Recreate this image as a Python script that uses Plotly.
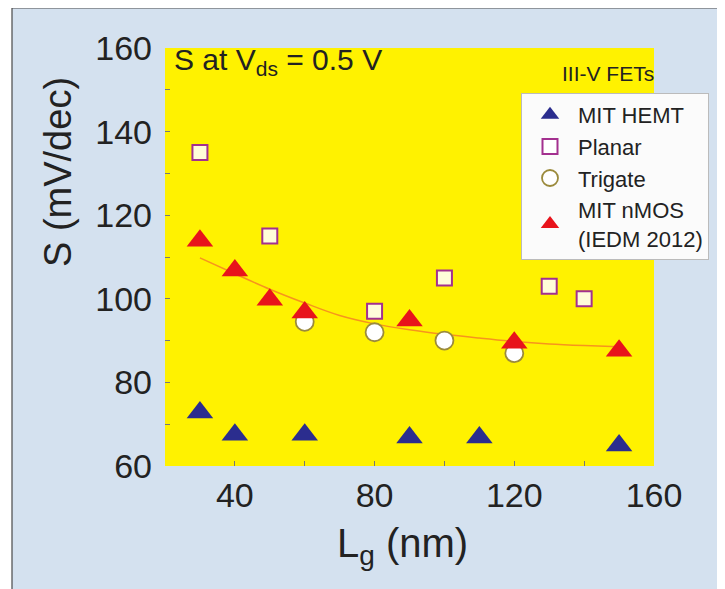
import plotly.graph_objects as go

# ---- data ----
hemt_x = [30, 40, 60, 90, 110, 150]
hemt_y = [72.8, 67.5, 67.5, 66.8, 66.8, 64.9]

planar_x = [30, 50, 80, 100, 130, 140]
planar_y = [135, 115, 97, 105, 103, 100]

trigate_x = [60, 80, 100, 120]
trigate_y = [94.5, 92, 90, 87]

nmos_x = [30, 40, 50, 60, 90, 120, 150]
nmos_y = [113.9, 106.8, 99.8, 96.7, 94.8, 89.5, 87.6]

fit_x = [30, 40, 50, 60, 70, 80, 90, 100, 110, 120, 130, 140, 150]
fit_y = [109.8, 106.0, 102.3, 99.0, 96.0, 94.0, 92.6, 91.5, 90.6, 89.8, 89.2, 88.8, 88.5]

x_ticks = [40, 80, 120, 160]
y_ticks = [60, 80, 100, 120, 140, 160]

FONT = "Liberation Sans, Arial, sans-serif"
TXT = "#222222"

fig = go.Figure()

fig.add_trace(go.Scatter(x=fit_x, y=fit_y, mode="lines", line=dict(color="#f7941d", width=1.5, shape="spline"),
                         showlegend=False, hoverinfo="skip"))
fig.add_trace(go.Scatter(x=hemt_x, y=hemt_y, mode="markers", name="MIT HEMT",
                         marker=dict(symbol="triangle-up", size=23, color="#2b2d8e", line=dict(width=0))))
fig.add_trace(go.Scatter(x=planar_x, y=planar_y, mode="markers", name="Planar",
                         marker=dict(symbol="square", size=15, color="rgba(255,255,255,0.85)",
                                     line=dict(color="#a3308f", width=2))))
fig.add_trace(go.Scatter(x=trigate_x, y=trigate_y, mode="markers", name="Trigate",
                         marker=dict(symbol="circle", size=18, color="#ffffff",
                                     line=dict(color="#9b8a3c", width=1.8))))
fig.add_trace(go.Scatter(x=nmos_x, y=nmos_y, mode="markers", name="MIT nMOS<br>(IEDM 2012)",
                         marker=dict(symbol="triangle-up", size=23, color="#e8131b", line=dict(width=0))))

OFF = 8  # page body margin
W, H = 717, 581
# plot area in page pixels: x 165..654, y 48..466
L = 165 - OFF
T = 48 - OFF
R = W - (654 - OFF)
B = H - (466 - OFF)
pw, ph = W - L - R, H - T - B

def px(x):
    return (x - OFF - L) / pw

def py(y):
    return (H - B - (y - OFF)) / ph

shapes = [
    dict(type="rect", xref="paper", yref="paper", x0=px(12), x1=px(722), y0=py(640), y1=py(8),
         fillcolor="#d4e1ef", line=dict(color="#4a4a4a", width=1.2), layer="below"),
    dict(type="rect", xref="paper", yref="paper", x0=0, x1=1, y0=0, y1=1,
         fillcolor="#fff200", line=dict(width=0), layer="below"),
]

annotations = [
    dict(text="S at V<sub>ds</sub> = 0.5 V", xref="paper", yref="paper", x=px(172), y=py(62),
         xanchor="left", yanchor="middle", showarrow=False, font=dict(size=30, color=TXT, family=FONT)),
    dict(text="III-V FETs", xref="paper", yref="paper", x=px(656), y=py(73),
         xanchor="right", yanchor="middle", showarrow=False, font=dict(size=21, color=TXT, family=FONT)),
    dict(text="S (mV/dec)", xref="paper", yref="paper", x=px(58), y=py(172),
         xanchor="center", yanchor="middle", textangle=-90, showarrow=False,
         font=dict(size=38, color=TXT, family=FONT)),
    dict(text="L<sub>g</sub> (nm)", xref="paper", yref="paper", x=px(402), y=py(546),
         xanchor="center", yanchor="middle", showarrow=False, font=dict(size=40, color=TXT, family=FONT)),
]

fig.update_layout(
    width=W, height=H,
    margin=dict(l=L, r=R, t=T, b=B),
    paper_bgcolor="#ffffff",
    plot_bgcolor="rgba(0,0,0,0)",
    font=dict(family=FONT, color=TXT),
    shapes=shapes,
    annotations=annotations,
    showlegend=True,
    legend=dict(x=px(521), y=py(93), xanchor="left", yanchor="top",
                bgcolor="#fbfbfb", bordercolor="#bbbbbb", borderwidth=1,
                font=dict(size=22, color=TXT, family=FONT), itemsizing="trace",
                itemwidth=46, tracegroupgap=0),
    xaxis=dict(range=[20, 160], tickvals=x_ticks, ticktext=[str(v) for v in x_ticks],
               ticks="inside", ticklen=5, tickcolor="#777777", tickwidth=1,
               minor=dict(tickvals=[60, 100, 140], ticks="inside", ticklen=5, tickcolor="#777777"),
               showgrid=False, zeroline=False, showline=False,
               tickfont=dict(size=34, color=TXT, family=FONT), ticklabelstandoff=6),
    yaxis=dict(range=[60, 160], tickvals=y_ticks, ticktext=[str(v) for v in y_ticks],
               ticks="inside", ticklen=5, tickcolor="#777777", tickwidth=1,
               minor=dict(tickvals=[70, 90, 110, 130, 150], ticks="inside", ticklen=5, tickcolor="#777777"),
               showgrid=False, zeroline=False, showline=False,
               tickfont=dict(size=34, color=TXT, family=FONT), ticklabelstandoff=12),
)

fig.write_html("out.html")
